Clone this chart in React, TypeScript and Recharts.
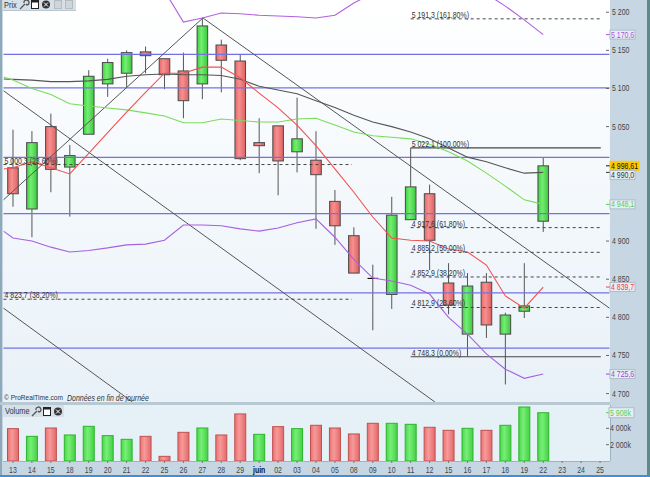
import React from "react";
import { ComposedChart, Bar, Line, XAxis, YAxis, ReferenceLine, ReferenceDot } from "recharts";

// date labels, one slot per trading day + the empty days on the right
const dayLabels = ["13","14","15","18","19","20","21","22","25","26","27","28","29","juin","02","03","04","05","08","09","10","11","12","15","16","17","18","19","22","23","24","25"];

const opens = [4996,4942,5050,4997,5040,5106,5120,5148,5139,5123,5106,5157,5136,5029,5051,5017,5006,4952,4907,4851,4830,4928,4962,4845,4778,4846,4778,4808,4926];
const highs = [5046,5044,5067,5026,5124,5139,5150,5155,5139,5147,5193,5164,5144,5061,5051,5088,5044,4967,4918,4869,4958,4971,4974,4871,4858,4858,4806,4871,5010];
const lows = [4945,4905,4964,4932,5040,5089,5102,5120,5099,5061,5086,5095,5006,4989,4960,4990,4916,4895,4858,4783,4811,4928,4862,4804,4749,4773,4712,4799,4912];
const closes = [4962,5029,4994,5012,5116,5134,5147,5143,5118,5084,5182,5137,5008,5025,5005,5034,4987,4920,4858,4849,4934,4971,4901,4816,4841,4790,4803,4815,4998.6];

const volumes = [3960,3020,4040,3185,4245,3105,2655,3020,570,3510,4040,3185,5760,3265,4205,3960,4370,4040,3310,4615,4615,4490,4125,3755,4000,3755,4370,6610,5908];
const volumeUp = [0,1,0,1,1,1,1,0,0,0,1,0,0,1,0,1,0,0,0,0,1,1,0,0,1,0,1,1,1];

// indicators, first value is the left edge of the pane (x = -0.5)
const blackMa = [5112.5,5112,5111,5109,5109,5110,5112,5116,5118,5119,5118,5118,5117,5112,5103,5098,5093,5084,5075,5065,5056,5050,5043,5034,5022,5010,5004,4996,4989,4990];
const greenMa = [5115,5111,5100,5092,5080,5077,5074.5,5072,5068,5064,5055,5055,5060,5058,5056,5056,5060,5061,5052,5043,5038,5036,5034,5027,5017,5005,4989,4972,4954,4948.1];
const redMa = [4994.5,4996,5004,4996,4988,5015,5042,5069,5095,5120,5120,5128,5128,5114,5094,5074.5,5052,5025,4994.5,4964,4931.5,4904,4901,4900,4889.5,4885.6,4868.5,4828,4812,4839.7];
const upperBand = [5300,5300,5300,5295,5290,5285,5280,5270,5255,5228,5187,5192.5,5199,5198,5196,5195,5194,5192.5,5196,5212,5225,5240,5250,5250,5245,5235,5224,5208,5190,5170.6];
const lowerBand = [4913,4904,4900,4892,4885.6,4887.6,4891,4895,4896,4901,4921,4921,4920,4916,4913,4917,4924,4929,4905,4876,4851.5,4847.6,4842,4830.5,4800,4778,4752,4732,4720,4725.6];

const supportLevels = [5144.7,5100.7,5009.6,4936,4832,4759.7];

const trendFrom = [[-0.5,4954],[10.03,5192.5],[-0.5,5097],[-0.5,4812]];
const trendTo = [[10.03,5192.5],[31.5,4812],[22.28,4689],[6.31,4689]];

const fibValues = [5191.3,5022.1,4917.6,4885.2,4852.9,4812.9,4748.3];
const fibLabels = ["5 191,3 (161,80%)","5 022,1 (100,00%)","4 917,6 (61,80%)","4 885,2 (50,00%)","4 852,9 (38,20%)","4 812,9 (23,60%)","4 748,3 (0,00%)"];
const fibSolid = [false,true,false,false,false,false,true];
const oldFibValues = [5000.3,4823.7];
const oldFibLabels = ["5 000,3 (23,60%)","4 823,7 (38,20%)"];

const priceTicks = [5200,5150,5100,5050,4900,4850,4800,4750,4700];
const flagValues = [5170.6,4998.61,4990,4948.1,4839.7,4725.6];
const flagLabels = ["5 170,6","4 998,61","4 990,0","4 948,1","4 839,7","4 725,6"];
const flagColors = ["#a855d8","#111","#333","#55d055","#f04040","#a040d8"];

const rows: any[] = [{ x: -0.5, black: blackMa[0], green: greenMa[0], red: redMa[0], upper: upperBand[0], lower: lowerBand[0] }];
opens.forEach((o, i) => {
  rows.push({
    x: i, open: o, high: highs[i], low: lows[i], close: closes[i],
    black: blackMa[i + 1], green: greenMa[i + 1], red: redMa[i + 1], upper: upperBand[i + 1], lower: lowerBand[i + 1],
  });
});
const volumeRows = volumes.map((v, i) => ({ x: i, volume: v, up: volumeUp[i] }));
const allDays = dayLabels.map((_, i) => i);

const font = "'Liberation Sans', Arial, sans-serif";
const squeeze = 0.82; // the original uses a narrower face than anything installed

function Txt({ x, y, children, ...rest }: any) {
  return <text transform={`translate(${x} ${y}) scale(${squeeze} 1)`} {...rest}>{children}</text>;
}

function Candle(props: any) {
  const { x, y, width, height, payload } = props;
  if (payload == null || payload.open == null) return null;
  const k = height / (payload.high - payload.low);
  const top = y + (payload.high - Math.max(payload.open, payload.close)) * k;
  const bottom = y + (payload.high - Math.min(payload.open, payload.close)) * k;
  // recharts floors the bar offset, so the centre sits half a pixel left of the tick
  const mid = x + width / 2 + 0.5;
  const w = 10.6;
  const up = payload.close >= payload.open;
  return (
    <g>
      <line x1={mid} x2={mid} y1={y} y2={y + height} stroke="#555" strokeWidth={1} />
      {payload.x === 19 ? (
        <line x1={mid - w / 2} x2={mid + w / 2} y1={top} y2={top} stroke="#111" strokeWidth={1.2} />
      ) : (
        <rect x={mid - w / 2} y={top} width={w} height={bottom - top} fill={up ? "url(#gUp)" : "url(#gDown)"} stroke="#4a4a4a" strokeWidth={1} />
      )}
    </g>
  );
}

function VolumeBar(props: any) {
  const { x, y, width, height, payload } = props;
  return (
    <rect x={x + 1} y={y} width={width - 1} height={height}
      fill={payload.up ? "url(#vUp)" : "url(#vDown)"}
      stroke={payload.up ? "#2cb52c" : "#c05050"} strokeWidth={1} />
  );
}

const tickText = { fontFamily: font, fontSize: 8.5 };

function PriceTick(props: any) {
  const { y, payload } = props;
  const x = props.x - 3.5;
  const f = flagValues.indexOf(payload.value);
  if (f >= 0) {
    const yellow = payload.value === 4998.61;
    const dy = payload.value === 4990 ? 2.5 : 0;
    return (
      <g {...tickText}>
        <line x1={x} x2={x + 4} y1={y} y2={y} stroke={flagColors[f]} />
        <rect x={x + 4} y={y + dy - 4.5} width={yellow ? 29 : 25} height={9} fill={yellow ? "#ffc800" : "#e6eef4"} stroke={yellow ? "#ffc800" : "#aebcc8"} />
        <Txt x={x + 5} y={y + dy + 3} fill={flagColors[f]}>{flagLabels[f]}</Txt>
      </g>
    );
  }
  const label = String(payload.value).replace(/(\d)(\d{3})$/, "$1 $2");
  return (
    <g {...tickText}>
      <line x1={x} x2={x + 3} y1={y} y2={y} stroke="#666" />
      <Txt x={x + 6} y={y + 3} fill="#444">{label}</Txt>
    </g>
  );
}

function VolumeTick(props: any) {
  const { y, payload } = props;
  const x = props.x - 3.5;
  const flag = payload.value === 5908;
  const label = flag ? "5 908k" : String(payload.value).replace(/(\d)(\d{3})$/, "$1 $2") + "k";
  return (
    <g {...tickText}>
      <line x1={x} x2={x + 3} y1={y} y2={y} stroke={flag ? "#55d055" : "#666"} />
      {flag && <rect x={x + 3} y={y - 5} width={25} height={10} fill="#e6eef4" stroke="#aebcc8" />}
      <Txt x={x + 4} y={y + 3} fill={flag ? "#55d055" : "#444"}>{label}</Txt>
    </g>
  );
}

function DayTick(props: any) {
  const { x, y, payload } = props;
  const text = dayLabels[payload.value];
  const bold = text === "juin";
  return (
    <g {...tickText}>
      <line x1={x} x2={x} y1={y} y2={y + 2} stroke="#777" />
      <Txt x={x} y={y + 11.5} textAnchor="middle" fill={bold ? "#111" : "#444"} fontWeight={bold ? 700 : 400}>{text}</Txt>
    </g>
  );
}

function FibText(props: any) {
  return <Txt x={props.cx + 1} y={props.cy - 1} fontFamily={font} fontSize={8.5} fill="#333">{props.text}</Txt>;
}

function Icons({ faded }: any) {
  return (
    <svg width={56} height={11} style={{ position: "absolute", left: 0, top: 0 }}>
      <path d="M1 10 L6 5 M5 4 a2.5 2.5 0 1 1 3 2 L7 5" stroke="#555" fill="none" strokeWidth={1.3} />
      <rect x={12.5} y={1.5} width={7} height={8} fill="#fff" stroke="#222" />
      <rect x={12.5} y={1.5} width={7} height={2} fill="#222" />
      <circle cx={27} cy={5.5} r={4} fill="#333" />
      <path d="M25 3.5 L29 7.5 M29 3.5 L25 7.5" stroke="#fff" strokeWidth={1} />
      {faded && <rect x={35.5} y={1.5} width={7} height={8} fill="#cfd6da" stroke="#b4bcc2" />}
      {faded && <rect x={46.5} y={1.5} width={7} height={8} fill="#cfd6da" stroke="#b4bcc2" />}
    </svg>
  );
}

function Gradients() {
  return (
    <defs>
      <linearGradient id="gUp" x1="0" x2="1" y1="0" y2="0">
        <stop offset="0" stopColor="#3fd03f" />
        <stop offset="0.4" stopColor="#74ee74" />
        <stop offset="1" stopColor="#3cc83c" />
      </linearGradient>
      <linearGradient id="gDown" x1="0" x2="1" y1="0" y2="0">
        <stop offset="0" stopColor="#e86868" />
        <stop offset="0.4" stopColor="#f59090" />
        <stop offset="1" stopColor="#e06060" />
      </linearGradient>
    </defs>
  );
}

function VolumeGradients() {
  return (
    <defs>
      <linearGradient id="vUp" x1="0" x2="1" y1="0" y2="0">
        <stop offset="0" stopColor="#48d848" />
        <stop offset="0.4" stopColor="#78ee78" />
        <stop offset="1" stopColor="#44d044" />
      </linearGradient>
      <linearGradient id="vDown" x1="0" x2="1" y1="0" y2="0">
        <stop offset="0" stopColor="#ec7070" />
        <stop offset="0.4" stopColor="#f69a9a" />
        <stop offset="1" stopColor="#e46868" />
      </linearGradient>
    </defs>
  );
}

const htmlSqueeze: any = { position: "absolute", whiteSpace: "nowrap", transform: `scaleX(${squeeze})`, transformOrigin: "left top", color: "#333" };

export default function App() {
  return (
    <div style={{ position: "absolute", left: 0, top: 0, width: 650, height: 477, overflow: "hidden", background: "#c6d7e3", fontFamily: font }}>
      {/* pane backgrounds */}
      <div style={{ position: "absolute", left: 3, top: 0, width: 607, height: 402, background: "linear-gradient(#ffffff, #e8f1f8)" }} />
      <div style={{ position: "absolute", left: 3, top: 405, width: 607, height: 56, background: "#e6f1f7" }} />
      <div style={{ position: "absolute", left: 0, top: 0, width: 2, height: 477, background: "#8fa9bb" }} />
      <div style={{ position: "absolute", left: 647, top: 0, width: 3, height: 477, background: "#5f8a8a" }} />
      <div style={{ position: "absolute", left: 3, top: 461, width: 607, height: 1, background: "#9fb2c0" }} />
      <div style={{ position: "absolute", left: 610, top: 405, width: 1, height: 56, background: "#9fb2c0" }} />
      <div style={{ position: "absolute", left: 0, top: 475, width: 650, height: 2, background: "#3d8fd8" }} />

      <div style={{ position: "absolute", left: 0, top: 0 }}>
        <ComposedChart width={650} height={402} data={rows} margin={{ top: 0, right: 0.5, bottom: 0, left: 3.5 }}>
          <Gradients />
          <XAxis type="number" dataKey="x" domain={[-0.5, 31.5]} allowDataOverflow hide />
          <YAxis orientation="right" width={40} domain={[4689, 5216]} allowDataOverflow ticks={[...priceTicks, ...flagValues]} interval={0}
            tick={<PriceTick />} tickSize={0} tickMargin={0} axisLine={false} tickLine={false} />
          {supportLevels.map((v) => (
            <ReferenceLine key={v} y={v} stroke="#7272e4" strokeWidth={1.2} />
          ))}
          {trendFrom.map((p, i) => (
            <ReferenceLine key={"t" + i} segment={[{ x: p[0], y: p[1] }, { x: trendTo[i][0], y: trendTo[i][1] }]} stroke="#555" strokeWidth={1} />
          ))}
          {fibValues.map((v, i) => (
            <ReferenceLine key={"f" + i} segment={[{ x: 21, y: v }, { x: 31.04, y: v }]} stroke="#444" strokeWidth={fibSolid[i] ? 1.1 : 1} strokeDasharray={fibSolid[i] ? undefined : "3 3"} />
          ))}
          <ReferenceLine segment={[{ x: 21, y: 5022.1 }, { x: 21, y: 4971 }]} stroke="#555" />
          {oldFibValues.map((v, i) => (
            <ReferenceLine key={"o" + i} segment={[{ x: -0.5, y: v }, { x: 17.9, y: v }]} stroke="#444" strokeDasharray="3 3" />
          ))}
          <Bar dataKey={(d: any) => (d.open == null ? null : [d.low, d.high])} barSize={11} shape={<Candle />} isAnimationActive={false} />
          <Line dataKey="upper" stroke="#b060e0" strokeWidth={1.1} dot={false} isAnimationActive={false} />
          <Line dataKey="lower" stroke="#a860e0" strokeWidth={1.1} dot={false} isAnimationActive={false} />
          <Line dataKey="black" stroke="#555" strokeWidth={1.1} dot={false} isAnimationActive={false} />
          <Line dataKey="green" stroke="#78dc5a" strokeWidth={1.1} dot={false} isAnimationActive={false} />
          <Line dataKey="red" stroke="#f45050" strokeWidth={1.1} dot={false} isAnimationActive={false} />
          {fibValues.map((v, i) => (
            <ReferenceDot key={"fl" + i} x={21} y={v} r={0} shape={<FibText text={fibLabels[i]} />} />
          ))}
          {oldFibValues.map((v, i) => (
            <ReferenceDot key={"ol" + i} x={-0.5} y={v} r={0} shape={<FibText text={oldFibLabels[i]} />} />
          ))}
        </ComposedChart>
      </div>

      <div style={{ position: "absolute", left: 0, top: 405 }}>
        <ComposedChart width={650} height={70} data={volumeRows} margin={{ top: 0, right: 0.5, bottom: 0, left: 3.5 }}>
          <VolumeGradients />
          <XAxis type="number" dataKey="x" domain={[-0.5, 31.5]} ticks={allDays} interval={0} height={14}
            tick={<DayTick />} tickSize={0} tickMargin={0} axisLine={false} tickLine={false} />
          <YAxis orientation="right" width={40} domain={[0, 6854]} allowDataOverflow ticks={[2000, 4000, 5908]} interval={0}
            tick={<VolumeTick />} tickSize={0} tickMargin={0} axisLine={false} tickLine={false} />
          <Bar dataKey="volume" barSize={12} shape={<VolumeBar />} isAnimationActive={false} />
        </ComposedChart>
      </div>

      {/* pane headers */}
      <div style={{ position: "absolute", left: 3, top: 0, width: 73, height: 10, background: "#d5e0e8", borderBottom: "1px solid #b8c6d0" }}>
        <span style={{ ...htmlSqueeze, left: 1, top: 0, fontSize: 9, lineHeight: "10px" }}>Prix</span>
        <div style={{ position: "absolute", left: 16, top: -1 }}><Icons faded /></div>
      </div>
      <div style={{ ...htmlSqueeze, left: 4, top: 393, fontSize: 8 }}>© ProRealTime.com</div>
      <div style={{ ...htmlSqueeze, left: 67, top: 393, fontSize: 8.5, fontStyle: "italic" }}>Données en fin de journée</div>
      <div style={{ position: "absolute", left: 0, top: 402, width: 610, height: 3, background: "#b9c9d4" }} />
      <div style={{ position: "absolute", left: 3, top: 405, width: 61, height: 12, background: "#d5e0e8" }}>
        <span style={{ ...htmlSqueeze, left: 2, top: 0, fontSize: 9, lineHeight: "12px" }}>Volume</span>
        <div style={{ position: "absolute", left: 28, top: 1 }}><Icons /></div>
      </div>
    </div>
  );
}
